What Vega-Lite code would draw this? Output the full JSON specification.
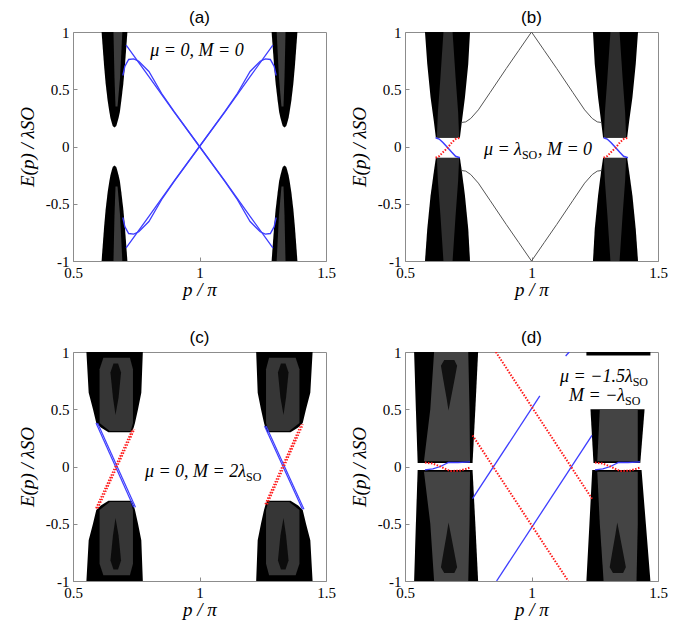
{
"$schema": "https://vega.github.io/schema/vega-lite/v6.json",
"padding": {"left": 17, "top": 8, "right": 4, "bottom": 4},
"config": {
  "view": {"stroke": "#8c8c8c", "strokeWidth": 1},
  "axis": {"domain": false, "grid": false, "tickSize": -4, "tickColor": "#8c8c8c", "labelPadding": 8, "labelFont": "Liberation Serif", "labelFontSize": 15, "labelColor": "black", "titleFont": "Liberation Serif", "titleFontSize": 19, "titleFontStyle": "italic", "titleFontWeight": "normal", "titleColor": "black", "titlePadding": 8},
  "axisX": {"titlePadding": 0},
  "title": {"font": "Liberation Sans", "fontSize": 17, "fontWeight": "normal", "color": "black", "offset": -2},
  "text": {"font": "Liberation Serif", "fontSize": 18, "fontStyle": "italic", "color": "black"}
},
"datasets": {
  "bands": [
    {"panel":"a","band":"UL","E":0.165,"p":0.664,"p2":0.664},{"panel":"a","band":"UL","E":0.18,"p":0.657,"p2":0.671},{"panel":"a","band":"UL","E":0.2,"p":0.654,"p2":0.674},{"panel":"a","band":"UL","E":0.25,"p":0.648,"p2":0.68},{"panel":"a","band":"UL","E":0.3,"p":0.644,"p2":0.685},{"panel":"a","band":"UL","E":0.4,"p":0.637,"p2":0.691},{"panel":"a","band":"UL","E":0.55,"p":0.629,"p2":0.699},{"panel":"a","band":"UL","E":0.7,"p":0.623,"p2":0.705},{"panel":"a","band":"UL","E":0.85,"p":0.618,"p2":0.71},{"panel":"a","band":"UL","E":1,"p":0.613,"p2":0.715},
    {"panel":"a","band":"LL","E":-1,"p":0.613,"p2":0.715},{"panel":"a","band":"LL","E":-0.85,"p":0.618,"p2":0.71},{"panel":"a","band":"LL","E":-0.7,"p":0.623,"p2":0.705},{"panel":"a","band":"LL","E":-0.55,"p":0.629,"p2":0.699},{"panel":"a","band":"LL","E":-0.4,"p":0.637,"p2":0.691},{"panel":"a","band":"LL","E":-0.3,"p":0.644,"p2":0.685},{"panel":"a","band":"LL","E":-0.25,"p":0.648,"p2":0.68},{"panel":"a","band":"LL","E":-0.2,"p":0.654,"p2":0.674},{"panel":"a","band":"LL","E":-0.18,"p":0.657,"p2":0.671},{"panel":"a","band":"LL","E":-0.165,"p":0.664,"p2":0.664},
    {"panel":"a","band":"UR","E":0.165,"p":1.336,"p2":1.336},{"panel":"a","band":"UR","E":0.18,"p":1.329,"p2":1.343},{"panel":"a","band":"UR","E":0.2,"p":1.326,"p2":1.346},{"panel":"a","band":"UR","E":0.25,"p":1.32,"p2":1.352},{"panel":"a","band":"UR","E":0.3,"p":1.315,"p2":1.356},{"panel":"a","band":"UR","E":0.4,"p":1.309,"p2":1.363},{"panel":"a","band":"UR","E":0.55,"p":1.301,"p2":1.371},{"panel":"a","band":"UR","E":0.7,"p":1.295,"p2":1.377},{"panel":"a","band":"UR","E":0.85,"p":1.29,"p2":1.382},{"panel":"a","band":"UR","E":1,"p":1.285,"p2":1.387},
    {"panel":"a","band":"LR","E":-1,"p":1.285,"p2":1.387},{"panel":"a","band":"LR","E":-0.85,"p":1.29,"p2":1.382},{"panel":"a","band":"LR","E":-0.7,"p":1.295,"p2":1.377},{"panel":"a","band":"LR","E":-0.55,"p":1.301,"p2":1.371},{"panel":"a","band":"LR","E":-0.4,"p":1.309,"p2":1.363},{"panel":"a","band":"LR","E":-0.3,"p":1.315,"p2":1.356},{"panel":"a","band":"LR","E":-0.25,"p":1.32,"p2":1.352},{"panel":"a","band":"LR","E":-0.2,"p":1.326,"p2":1.346},{"panel":"a","band":"LR","E":-0.18,"p":1.329,"p2":1.343},{"panel":"a","band":"LR","E":-0.165,"p":1.336,"p2":1.336},
    {"panel":"b","band":"UL","E":0.076,"p":0.622,"p2":0.717},{"panel":"b","band":"UL","E":0.22,"p":0.614,"p2":0.725},{"panel":"b","band":"UL","E":0.43,"p":0.601,"p2":0.737},{"panel":"b","band":"UL","E":0.72,"p":0.588,"p2":0.75},{"panel":"b","band":"UL","E":1,"p":0.579,"p2":0.757},
    {"panel":"b","band":"LL","E":-1,"p":0.579,"p2":0.757},{"panel":"b","band":"LL","E":-0.72,"p":0.588,"p2":0.75},{"panel":"b","band":"LL","E":-0.43,"p":0.601,"p2":0.737},{"panel":"b","band":"LL","E":-0.22,"p":0.614,"p2":0.725},{"panel":"b","band":"LL","E":-0.098,"p":0.622,"p2":0.717},
    {"panel":"b","band":"UR","E":0.076,"p":1.283,"p2":1.378},{"panel":"b","band":"UR","E":0.22,"p":1.275,"p2":1.386},{"panel":"b","band":"UR","E":0.43,"p":1.263,"p2":1.399},{"panel":"b","band":"UR","E":0.72,"p":1.25,"p2":1.412},{"panel":"b","band":"UR","E":1,"p":1.243,"p2":1.421},
    {"panel":"b","band":"LR","E":-1,"p":1.243,"p2":1.421},{"panel":"b","band":"LR","E":-0.72,"p":1.25,"p2":1.412},{"panel":"b","band":"LR","E":-0.43,"p":1.263,"p2":1.399},{"panel":"b","band":"LR","E":-0.22,"p":1.275,"p2":1.386},{"panel":"b","band":"LR","E":-0.098,"p":1.283,"p2":1.378},
    {"panel":"c","band":"UL","E":0.3,"p":0.64,"p2":0.732},{"panel":"c","band":"UL","E":0.34,"p":0.61,"p2":0.74},{"panel":"c","band":"UL","E":0.38,"p":0.592,"p2":0.745},{"panel":"c","band":"UL","E":0.5,"p":0.579,"p2":0.757},{"panel":"c","band":"UL","E":0.645,"p":0.562,"p2":0.77},{"panel":"c","band":"UL","E":1,"p":0.553,"p2":0.776},
    {"panel":"c","band":"LL","E":-1,"p":0.553,"p2":0.776},{"panel":"c","band":"LL","E":-0.645,"p":0.562,"p2":0.77},{"panel":"c","band":"LL","E":-0.5,"p":0.579,"p2":0.757},{"panel":"c","band":"LL","E":-0.38,"p":0.592,"p2":0.745},{"panel":"c","band":"LL","E":-0.34,"p":0.61,"p2":0.74},{"panel":"c","band":"LL","E":-0.3,"p":0.64,"p2":0.732},
    {"panel":"c","band":"UR","E":0.3,"p":1.268,"p2":1.36},{"panel":"c","band":"UR","E":0.34,"p":1.26,"p2":1.39},{"panel":"c","band":"UR","E":0.38,"p":1.255,"p2":1.408},{"panel":"c","band":"UR","E":0.5,"p":1.243,"p2":1.421},{"panel":"c","band":"UR","E":0.645,"p":1.23,"p2":1.438},{"panel":"c","band":"UR","E":1,"p":1.224,"p2":1.447},
    {"panel":"c","band":"LR","E":-1,"p":1.224,"p2":1.447},{"panel":"c","band":"LR","E":-0.645,"p":1.23,"p2":1.438},{"panel":"c","band":"LR","E":-0.5,"p":1.243,"p2":1.421},{"panel":"c","band":"LR","E":-0.38,"p":1.255,"p2":1.408},{"panel":"c","band":"LR","E":-0.34,"p":1.26,"p2":1.39},{"panel":"c","band":"LR","E":-0.3,"p":1.268,"p2":1.36},
    {"panel":"d","band":"UL","E":0.03,"p":0.55,"p2":0.767},{"panel":"d","band":"UL","E":0.5,"p":0.543,"p2":0.778},{"panel":"d","band":"UL","E":1,"p":0.536,"p2":0.789},
    {"panel":"d","band":"LL","E":-1,"p":0.536,"p2":0.789},{"panel":"d","band":"LL","E":-0.5,"p":0.543,"p2":0.778},{"panel":"d","band":"LL","E":-0.03,"p":0.55,"p2":0.767},
    {"panel":"d","band":"UR","E":0.03,"p":1.245,"p2":1.43},{"panel":"d","band":"UR","E":0.5,"p":1.233,"p2":1.447},
    {"panel":"d","band":"URtop","E":0.97,"p":1.217,"p2":1.47},{"panel":"d","band":"URtop","E":1,"p":1.217,"p2":1.47},
    {"panel":"d","band":"LR","E":-1,"p":1.217,"p2":1.47},{"panel":"d","band":"LR","E":-0.5,"p":1.229,"p2":1.452},{"panel":"d","band":"LR","E":-0.03,"p":1.24,"p2":1.435}
  ],
  "cores": [
    {"panel":"a","band":"UL","level":"core","E":0.35,"p":0.668,"p2":0.676},{"panel":"a","band":"UL","level":"core","E":0.6,"p":0.664,"p2":0.686},{"panel":"a","band":"UL","level":"core","E":1,"p":0.66,"p2":0.695},
    {"panel":"a","band":"LL","level":"core","E":-1,"p":0.66,"p2":0.695},{"panel":"a","band":"LL","level":"core","E":-0.6,"p":0.664,"p2":0.686},{"panel":"a","band":"LL","level":"core","E":-0.35,"p":0.668,"p2":0.676},
    {"panel":"a","band":"UR","level":"core","E":0.35,"p":1.324,"p2":1.332},{"panel":"a","band":"UR","level":"core","E":0.6,"p":1.314,"p2":1.336},{"panel":"a","band":"UR","level":"core","E":1,"p":1.305,"p2":1.34},
    {"panel":"a","band":"LR","level":"core","E":-1,"p":1.305,"p2":1.34},{"panel":"a","band":"LR","level":"core","E":-0.6,"p":1.314,"p2":1.336},{"panel":"a","band":"LR","level":"core","E":-0.35,"p":1.324,"p2":1.332},
    {"panel":"b","band":"UL","level":"core","E":0.08,"p":0.626,"p2":0.714},{"panel":"b","band":"UL","level":"core","E":0.3,"p":0.63,"p2":0.71},{"panel":"b","band":"UL","level":"core","E":0.6,"p":0.64,"p2":0.7},{"panel":"b","band":"UL","level":"core","E":1,"p":0.652,"p2":0.688},
    {"panel":"b","band":"LL","level":"core","E":-1,"p":0.652,"p2":0.688},{"panel":"b","band":"LL","level":"core","E":-0.6,"p":0.64,"p2":0.7},{"panel":"b","band":"LL","level":"core","E":-0.3,"p":0.63,"p2":0.71},{"panel":"b","band":"LL","level":"core","E":-0.1,"p":0.626,"p2":0.714},
    {"panel":"b","band":"UR","level":"core","E":0.08,"p":1.286,"p2":1.374},{"panel":"b","band":"UR","level":"core","E":0.3,"p":1.29,"p2":1.37},{"panel":"b","band":"UR","level":"core","E":0.6,"p":1.3,"p2":1.36},{"panel":"b","band":"UR","level":"core","E":1,"p":1.312,"p2":1.348},
    {"panel":"b","band":"LR","level":"core","E":-1,"p":1.312,"p2":1.348},{"panel":"b","band":"LR","level":"core","E":-0.6,"p":1.3,"p2":1.36},{"panel":"b","band":"LR","level":"core","E":-0.3,"p":1.29,"p2":1.37},{"panel":"b","band":"LR","level":"core","E":-0.1,"p":1.286,"p2":1.374},
    {"panel":"c","band":"UL","level":"core","E":0.31,"p":0.645,"p2":0.728},{"panel":"c","band":"UL","level":"core","E":0.38,"p":0.605,"p2":0.737},{"panel":"c","band":"UL","level":"core","E":0.85,"p":0.605,"p2":0.737},{"panel":"c","band":"UL","level":"core","E":0.95,"p":0.62,"p2":0.725},
    {"panel":"c","band":"LL","level":"core","E":-0.95,"p":0.62,"p2":0.725},{"panel":"c","band":"LL","level":"core","E":-0.85,"p":0.605,"p2":0.737},{"panel":"c","band":"LL","level":"core","E":-0.38,"p":0.605,"p2":0.737},{"panel":"c","band":"LL","level":"core","E":-0.31,"p":0.645,"p2":0.728},
    {"panel":"c","band":"UR","level":"core","E":0.31,"p":1.272,"p2":1.355},{"panel":"c","band":"UR","level":"core","E":0.38,"p":1.263,"p2":1.395},{"panel":"c","band":"UR","level":"core","E":0.85,"p":1.263,"p2":1.395},{"panel":"c","band":"UR","level":"core","E":0.95,"p":1.275,"p2":1.38},
    {"panel":"c","band":"LR","level":"core","E":-0.95,"p":1.275,"p2":1.38},{"panel":"c","band":"LR","level":"core","E":-0.85,"p":1.263,"p2":1.395},{"panel":"c","band":"LR","level":"core","E":-0.38,"p":1.263,"p2":1.395},{"panel":"c","band":"LR","level":"core","E":-0.31,"p":1.272,"p2":1.355},
    {"panel":"c","band":"ULs","level":"spindle","E":0.45,"p":0.668,"p2":0.668},{"panel":"c","band":"ULs","level":"spindle","E":0.6,"p":0.658,"p2":0.68},{"panel":"c","band":"ULs","level":"spindle","E":0.82,"p":0.648,"p2":0.69},{"panel":"c","band":"ULs","level":"spindle","E":0.9,"p":0.66,"p2":0.678},
    {"panel":"c","band":"LLs","level":"spindle","E":-0.9,"p":0.66,"p2":0.678},{"panel":"c","band":"LLs","level":"spindle","E":-0.82,"p":0.648,"p2":0.69},{"panel":"c","band":"LLs","level":"spindle","E":-0.6,"p":0.658,"p2":0.68},{"panel":"c","band":"LLs","level":"spindle","E":-0.45,"p":0.668,"p2":0.668},
    {"panel":"c","band":"URs","level":"spindle","E":0.45,"p":1.332,"p2":1.332},{"panel":"c","band":"URs","level":"spindle","E":0.6,"p":1.32,"p2":1.342},{"panel":"c","band":"URs","level":"spindle","E":0.82,"p":1.31,"p2":1.352},{"panel":"c","band":"URs","level":"spindle","E":0.9,"p":1.322,"p2":1.34},
    {"panel":"c","band":"LRs","level":"spindle","E":-0.9,"p":1.322,"p2":1.34},{"panel":"c","band":"LRs","level":"spindle","E":-0.82,"p":1.31,"p2":1.352},{"panel":"c","band":"LRs","level":"spindle","E":-0.6,"p":1.32,"p2":1.342},{"panel":"c","band":"LRs","level":"spindle","E":-0.45,"p":1.332,"p2":1.332},
    {"panel":"d","band":"UL","level":"core","E":0.045,"p":0.575,"p2":0.757},{"panel":"d","band":"UL","level":"core","E":0.5,"p":0.6,"p2":0.755},{"panel":"d","band":"UL","level":"core","E":1,"p":0.615,"p2":0.75},
    {"panel":"d","band":"LL","level":"core","E":-1,"p":0.615,"p2":0.75},{"panel":"d","band":"LL","level":"core","E":-0.5,"p":0.6,"p2":0.755},{"panel":"d","band":"LL","level":"core","E":-0.045,"p":0.575,"p2":0.757},
    {"panel":"d","band":"UR","level":"core","E":0.045,"p":1.26,"p2":1.42},{"panel":"d","band":"UR","level":"core","E":0.5,"p":1.27,"p2":1.42},
    {"panel":"d","band":"LR","level":"core","E":-1,"p":1.285,"p2":1.415},{"panel":"d","band":"LR","level":"core","E":-0.5,"p":1.27,"p2":1.42},{"panel":"d","band":"LR","level":"core","E":-0.045,"p":1.26,"p2":1.42},
    {"panel":"d","band":"ULs","level":"spindle","E":0.49,"p":0.672,"p2":0.672},{"panel":"d","band":"ULs","level":"spindle","E":0.6,"p":0.664,"p2":0.682},{"panel":"d","band":"ULs","level":"spindle","E":0.75,"p":0.652,"p2":0.695},{"panel":"d","band":"ULs","level":"spindle","E":0.88,"p":0.642,"p2":0.706},{"panel":"d","band":"ULs","level":"spindle","E":0.93,"p":0.655,"p2":0.695},
    {"panel":"d","band":"LLs","level":"spindle","E":-0.93,"p":0.655,"p2":0.695},{"panel":"d","band":"LLs","level":"spindle","E":-0.88,"p":0.642,"p2":0.706},{"panel":"d","band":"LLs","level":"spindle","E":-0.75,"p":0.652,"p2":0.695},{"panel":"d","band":"LLs","level":"spindle","E":-0.6,"p":0.664,"p2":0.682},{"panel":"d","band":"LLs","level":"spindle","E":-0.49,"p":0.672,"p2":0.672},
    {"panel":"d","band":"LRs","level":"spindle","E":-0.93,"p":1.322,"p2":1.362},{"panel":"d","band":"LRs","level":"spindle","E":-0.88,"p":1.309,"p2":1.373},{"panel":"d","band":"LRs","level":"spindle","E":-0.75,"p":1.319,"p2":1.362},{"panel":"d","band":"LRs","level":"spindle","E":-0.6,"p":1.331,"p2":1.349},{"panel":"d","band":"LRs","level":"spindle","E":-0.49,"p":1.339,"p2":1.339}
  ],
  "curves": [
    {"panel":"a","id":"a1","kind":"up","p":0.71,"E":0.885},{"panel":"a","id":"a1","kind":"up","p":0.8,"E":0.61},{"panel":"a","id":"a1","kind":"up","p":0.9,"E":0.3},{"panel":"a","id":"a1","kind":"up","p":1,"E":0},{"panel":"a","id":"a1","kind":"up","p":1.1,"E":-0.3},{"panel":"a","id":"a1","kind":"up","p":1.2,"E":-0.61},{"panel":"a","id":"a1","kind":"up","p":1.29,"E":-0.885},
    {"panel":"a","id":"a3","kind":"up","p":0.71,"E":-0.885},{"panel":"a","id":"a3","kind":"up","p":0.8,"E":-0.61},{"panel":"a","id":"a3","kind":"up","p":0.9,"E":-0.3},{"panel":"a","id":"a3","kind":"up","p":1,"E":0},{"panel":"a","id":"a3","kind":"up","p":1.1,"E":0.3},{"panel":"a","id":"a3","kind":"up","p":1.2,"E":0.61},{"panel":"a","id":"a3","kind":"up","p":1.29,"E":0.885},
    {"panel":"a","id":"a2","kind":"up","p":0.697,"E":0.62},{"panel":"a","id":"a2","kind":"up","p":0.705,"E":0.7},{"panel":"a","id":"a2","kind":"up","p":0.72,"E":0.76},{"panel":"a","id":"a2","kind":"up","p":0.74,"E":0.765},{"panel":"a","id":"a2","kind":"up","p":0.76,"E":0.745},{"panel":"a","id":"a2","kind":"up","p":0.8,"E":0.655},{"panel":"a","id":"a2","kind":"up","p":0.85,"E":0.465},{"panel":"a","id":"a2","kind":"up","p":0.9,"E":0.305},{"panel":"a","id":"a2","kind":"up","p":1,"E":0},{"panel":"a","id":"a2","kind":"up","p":1.1,"E":-0.305},{"panel":"a","id":"a2","kind":"up","p":1.15,"E":-0.465},{"panel":"a","id":"a2","kind":"up","p":1.2,"E":-0.655},{"panel":"a","id":"a2","kind":"up","p":1.24,"E":-0.745},{"panel":"a","id":"a2","kind":"up","p":1.26,"E":-0.765},{"panel":"a","id":"a2","kind":"up","p":1.28,"E":-0.76},{"panel":"a","id":"a2","kind":"up","p":1.295,"E":-0.7},{"panel":"a","id":"a2","kind":"up","p":1.303,"E":-0.62},
    {"panel":"a","id":"a4","kind":"up","p":0.697,"E":-0.62},{"panel":"a","id":"a4","kind":"up","p":0.705,"E":-0.7},{"panel":"a","id":"a4","kind":"up","p":0.72,"E":-0.76},{"panel":"a","id":"a4","kind":"up","p":0.74,"E":-0.765},{"panel":"a","id":"a4","kind":"up","p":0.76,"E":-0.745},{"panel":"a","id":"a4","kind":"up","p":0.8,"E":-0.655},{"panel":"a","id":"a4","kind":"up","p":0.85,"E":-0.465},{"panel":"a","id":"a4","kind":"up","p":0.9,"E":-0.305},{"panel":"a","id":"a4","kind":"up","p":1,"E":0},{"panel":"a","id":"a4","kind":"up","p":1.1,"E":0.305},{"panel":"a","id":"a4","kind":"up","p":1.15,"E":0.465},{"panel":"a","id":"a4","kind":"up","p":1.2,"E":0.655},{"panel":"a","id":"a4","kind":"up","p":1.24,"E":0.745},{"panel":"a","id":"a4","kind":"up","p":1.26,"E":0.765},{"panel":"a","id":"a4","kind":"up","p":1.28,"E":0.76},{"panel":"a","id":"a4","kind":"up","p":1.295,"E":0.7},{"panel":"a","id":"a4","kind":"up","p":1.303,"E":0.62},
    {"panel":"b","id":"bg1","kind":"bulk","p":0.724,"E":0.21},{"panel":"b","id":"bg1","kind":"bulk","p":0.74,"E":0.215},{"panel":"b","id":"bg1","kind":"bulk","p":0.76,"E":0.245},{"panel":"b","id":"bg1","kind":"bulk","p":0.79,"E":0.32},{"panel":"b","id":"bg1","kind":"bulk","p":0.836,"E":0.47},{"panel":"b","id":"bg1","kind":"bulk","p":0.9,"E":0.68},{"panel":"b","id":"bg1","kind":"bulk","p":0.95,"E":0.84},{"panel":"b","id":"bg1","kind":"bulk","p":1,"E":1},{"panel":"b","id":"bg1","kind":"bulk","p":1.05,"E":0.84},{"panel":"b","id":"bg1","kind":"bulk","p":1.1,"E":0.68},{"panel":"b","id":"bg1","kind":"bulk","p":1.164,"E":0.47},{"panel":"b","id":"bg1","kind":"bulk","p":1.21,"E":0.32},{"panel":"b","id":"bg1","kind":"bulk","p":1.24,"E":0.245},{"panel":"b","id":"bg1","kind":"bulk","p":1.26,"E":0.215},{"panel":"b","id":"bg1","kind":"bulk","p":1.276,"E":0.21},
    {"panel":"b","id":"bg2","kind":"bulk","p":0.724,"E":-0.21},{"panel":"b","id":"bg2","kind":"bulk","p":0.74,"E":-0.215},{"panel":"b","id":"bg2","kind":"bulk","p":0.76,"E":-0.245},{"panel":"b","id":"bg2","kind":"bulk","p":0.79,"E":-0.32},{"panel":"b","id":"bg2","kind":"bulk","p":0.836,"E":-0.47},{"panel":"b","id":"bg2","kind":"bulk","p":0.9,"E":-0.68},{"panel":"b","id":"bg2","kind":"bulk","p":0.95,"E":-0.84},{"panel":"b","id":"bg2","kind":"bulk","p":1,"E":-1},{"panel":"b","id":"bg2","kind":"bulk","p":1.05,"E":-0.84},{"panel":"b","id":"bg2","kind":"bulk","p":1.1,"E":-0.68},{"panel":"b","id":"bg2","kind":"bulk","p":1.164,"E":-0.47},{"panel":"b","id":"bg2","kind":"bulk","p":1.21,"E":-0.32},{"panel":"b","id":"bg2","kind":"bulk","p":1.24,"E":-0.245},{"panel":"b","id":"bg2","kind":"bulk","p":1.26,"E":-0.215},{"panel":"b","id":"bg2","kind":"bulk","p":1.276,"E":-0.21},
    {"panel":"b","id":"bb1","kind":"up","p":0.621,"E":0.076},{"panel":"b","id":"bb1","kind":"up","p":0.635,"E":0.065},{"panel":"b","id":"bb1","kind":"up","p":0.65,"E":0.035},{"panel":"b","id":"bb1","kind":"up","p":0.669,"E":-0.01},{"panel":"b","id":"bb1","kind":"up","p":0.685,"E":-0.05},{"panel":"b","id":"bb1","kind":"up","p":0.7,"E":-0.085},{"panel":"b","id":"bb1","kind":"up","p":0.717,"E":-0.098},
    {"panel":"b","id":"br1","kind":"down","p":0.621,"E":-0.098},{"panel":"b","id":"br1","kind":"down","p":0.635,"E":-0.085},{"panel":"b","id":"br1","kind":"down","p":0.65,"E":-0.05},{"panel":"b","id":"br1","kind":"down","p":0.669,"E":-0.01},{"panel":"b","id":"br1","kind":"down","p":0.685,"E":0.035},{"panel":"b","id":"br1","kind":"down","p":0.7,"E":0.065},{"panel":"b","id":"br1","kind":"down","p":0.717,"E":0.076},
    {"panel":"b","id":"bb2","kind":"up","p":1.285,"E":0.076},{"panel":"b","id":"bb2","kind":"up","p":1.299,"E":0.065},{"panel":"b","id":"bb2","kind":"up","p":1.314,"E":0.035},{"panel":"b","id":"bb2","kind":"up","p":1.333,"E":-0.01},{"panel":"b","id":"bb2","kind":"up","p":1.349,"E":-0.05},{"panel":"b","id":"bb2","kind":"up","p":1.364,"E":-0.085},{"panel":"b","id":"bb2","kind":"up","p":1.381,"E":-0.098},
    {"panel":"b","id":"br2","kind":"down","p":1.285,"E":-0.098},{"panel":"b","id":"br2","kind":"down","p":1.299,"E":-0.085},{"panel":"b","id":"br2","kind":"down","p":1.314,"E":-0.05},{"panel":"b","id":"br2","kind":"down","p":1.333,"E":-0.01},{"panel":"b","id":"br2","kind":"down","p":1.349,"E":0.035},{"panel":"b","id":"br2","kind":"down","p":1.364,"E":0.065},{"panel":"b","id":"br2","kind":"down","p":1.381,"E":0.076},
    {"panel":"c","id":"cb1","kind":"up","p":0.591,"E":0.38},{"panel":"c","id":"cb1","kind":"up","p":0.74,"E":-0.356},
    {"panel":"c","id":"cb2","kind":"up","p":0.597,"E":0.38},{"panel":"c","id":"cb2","kind":"up","p":0.747,"E":-0.356},
    {"panel":"c","id":"cr1","kind":"down","p":0.591,"E":-0.365},{"panel":"c","id":"cr1","kind":"down","p":0.736,"E":0.327},
    {"panel":"c","id":"cr2","kind":"down","p":0.598,"E":-0.365},{"panel":"c","id":"cr2","kind":"down","p":0.743,"E":0.327},
    {"panel":"c","id":"cb3","kind":"up","p":1.257,"E":0.354},{"panel":"c","id":"cb3","kind":"up","p":1.407,"E":-0.374},
    {"panel":"c","id":"cb4","kind":"up","p":1.263,"E":0.354},{"panel":"c","id":"cb4","kind":"up","p":1.413,"E":-0.374},
    {"panel":"c","id":"cr3","kind":"down","p":1.26,"E":-0.33},{"panel":"c","id":"cr3","kind":"down","p":1.402,"E":0.368},
    {"panel":"c","id":"cr4","kind":"down","p":1.267,"E":-0.33},{"panel":"c","id":"cr4","kind":"down","p":1.409,"E":0.368},
    {"panel":"d","id":"dr1","kind":"down","p":0.859,"E":1},{"panel":"d","id":"dr1","kind":"down","p":1.239,"E":-0.281},
    {"panel":"d","id":"dr2","kind":"down","p":0.767,"E":0.272},{"panel":"d","id":"dr2","kind":"down","p":1.145,"E":-1},
    {"panel":"d","id":"db1","kind":"up","p":0.767,"E":-0.281},{"panel":"d","id":"db1","kind":"up","p":1.033,"E":0.616},
    {"panel":"d","id":"db2","kind":"up","p":0.862,"E":-1},{"panel":"d","id":"db2","kind":"up","p":1.239,"E":0.272},
    {"panel":"d","id":"db3","kind":"up","p":1.135,"E":0.965},{"panel":"d","id":"db3","kind":"up","p":1.149,"E":1},
    {"panel":"d","id":"dlr","kind":"down","p":0.579,"E":0.035},{"panel":"d","id":"dlr","kind":"down","p":0.61,"E":0.025},{"panel":"d","id":"dlr","kind":"down","p":0.64,"E":0},{"panel":"d","id":"dlr","kind":"down","p":0.678,"E":-0.04},{"panel":"d","id":"dlr","kind":"down","p":0.72,"E":-0.035},{"panel":"d","id":"dlr","kind":"down","p":0.757,"E":-0.01},
    {"panel":"d","id":"dlb","kind":"up","p":0.579,"E":-0.03},{"panel":"d","id":"dlb","kind":"up","p":0.61,"E":-0.02},{"panel":"d","id":"dlb","kind":"up","p":0.64,"E":0},{"panel":"d","id":"dlb","kind":"up","p":0.672,"E":0.035},{"panel":"d","id":"dlb","kind":"up","p":0.71,"E":0.035},{"panel":"d","id":"dlb","kind":"up","p":0.757,"E":0.04},
    {"panel":"d","id":"drr","kind":"down","p":1.251,"E":0.035},{"panel":"d","id":"drr","kind":"down","p":1.282,"E":0.025},{"panel":"d","id":"drr","kind":"down","p":1.312,"E":0},{"panel":"d","id":"drr","kind":"down","p":1.35,"E":-0.04},{"panel":"d","id":"drr","kind":"down","p":1.392,"E":-0.035},{"panel":"d","id":"drr","kind":"down","p":1.429,"E":-0.01},
    {"panel":"d","id":"drb","kind":"up","p":1.251,"E":-0.03},{"panel":"d","id":"drb","kind":"up","p":1.282,"E":-0.02},{"panel":"d","id":"drb","kind":"up","p":1.312,"E":0},{"panel":"d","id":"drb","kind":"up","p":1.344,"E":0.035},{"panel":"d","id":"drb","kind":"up","p":1.382,"E":0.035},{"panel":"d","id":"drb","kind":"up","p":1.429,"E":0.04}
  ],
  "notes": [
    {"panel":"a","part":"whole","p":0.99,"E":0.83,"text":"μ = 0, M = 0"},
    {"panel":"b","part":"pre","p":0.962,"E":-0.03,"text":"μ = λ"},
    {"panel":"b","part":"sub","p":0.962,"E":-0.03,"text":"SO"},
    {"panel":"b","part":"post","p":0.962,"E":-0.03,"text":", M = 0"},
    {"panel":"c","part":"pre","p":1.184,"E":-0.05,"text":"μ = 0, M = 2λ"},
    {"panel":"c","part":"sub","p":1.184,"E":-0.05,"text":"SO"},
    {"panel":"d","part":"pre","p":1.4,"E":0.78,"text":"μ = −1.5λ"},
    {"panel":"d","part":"sub","p":1.4,"E":0.78,"text":"SO"},
    {"panel":"d","part":"pre","p":1.37,"E":0.62,"text":"M = −λ"},
    {"panel":"d","part":"sub","p":1.37,"E":0.62,"text":"SO"}
  ]
},
"spacing": 28,
"vconcat": [
 {"hconcat": [
  {"title": "(a)", "width": 253, "height": 229,
   "encoding": {
     "x": {"field": "p", "type": "quantitative", "scale": {"domain": [0.5, 1.5], "nice": false, "zero": false}, "axis": {"values": [0.5, 1, 1.5], "labelExpr": "'' + datum.value", "labelFlush": false, "title": "p / π"}},
     "y": {"field": "E", "type": "quantitative", "scale": {"domain": [-1, 1], "nice": false, "zero": false}, "axis": {"values": [-1, -0.5, 0, 0.5, 1], "labelExpr": "'' + datum.value", "title": "E(p) / λSO"}}
   },
   "layer": [
     {"data": {"name": "bands"}, "transform": [{"filter": "datum.panel == 'a'"}], "mark": {"type": "area", "orient": "horizontal", "color": "black", "clip": true}, "encoding": {"x2": {"field": "p2"}, "detail": {"field": "band"}}},
     {"data": {"name": "cores"}, "transform": [{"filter": "datum.panel == 'a' && datum.level == 'core'"}], "mark": {"type": "area", "orient": "horizontal", "color": "#3c3c3c", "clip": true}, "encoding": {"x2": {"field": "p2"}, "detail": {"field": "band"}}},
     {"data": {"name": "curves"}, "transform": [{"filter": "datum.panel == 'a' && datum.kind == 'up'"}], "mark": {"type": "line", "color": "#3d3dff", "strokeWidth": 1.3, "clip": true}, "encoding": {"detail": {"field": "id"}}},
     {"data": {"name": "notes"}, "transform": [{"filter": "datum.panel == 'a' && datum.part == 'whole'"}], "mark": {"type": "text", "align": "center", "baseline": "middle"}, "encoding": {"text": {"field": "text"}}}
   ]},
  {"title": "(b)", "width": 253, "height": 229,
   "encoding": {
     "x": {"field": "p", "type": "quantitative", "scale": {"domain": [0.5, 1.5], "nice": false, "zero": false}, "axis": {"values": [0.5, 1, 1.5], "labelExpr": "'' + datum.value", "labelFlush": false, "title": "p / π"}},
     "y": {"field": "E", "type": "quantitative", "scale": {"domain": [-1, 1], "nice": false, "zero": false}, "axis": {"values": [-1, -0.5, 0, 0.5, 1], "labelExpr": "'' + datum.value", "title": "E(p) / λSO"}}
   },
   "layer": [
     {"data": {"name": "bands"}, "transform": [{"filter": "datum.panel == 'b'"}], "mark": {"type": "area", "orient": "horizontal", "color": "black", "clip": true}, "encoding": {"x2": {"field": "p2"}, "detail": {"field": "band"}}},
     {"data": {"name": "cores"}, "transform": [{"filter": "datum.panel == 'b' && datum.level == 'core'"}], "mark": {"type": "area", "orient": "horizontal", "color": "#2e2e2e", "clip": true}, "encoding": {"x2": {"field": "p2"}, "detail": {"field": "band"}}},
     {"data": {"name": "curves"}, "transform": [{"filter": "datum.panel == 'b' && datum.kind == 'bulk'"}], "mark": {"type": "line", "color": "#555555", "strokeWidth": 1, "clip": true}, "encoding": {"detail": {"field": "id"}}},
     {"data": {"name": "curves"}, "transform": [{"filter": "datum.panel == 'b' && datum.kind == 'up'"}], "mark": {"type": "line", "color": "#3d3dff", "strokeWidth": 1.5, "clip": true}, "encoding": {"detail": {"field": "id"}}},
     {"data": {"name": "curves"}, "transform": [{"filter": "datum.panel == 'b' && datum.kind == 'down'"}], "mark": {"type": "line", "color": "#ff1a1a", "strokeWidth": 2, "strokeDash": [1.5, 1.5], "clip": true}, "encoding": {"detail": {"field": "id"}}},
     {"data": {"name": "notes"}, "transform": [{"filter": "datum.panel == 'b' && datum.part == 'pre'"}], "mark": {"type": "text", "align": "right", "baseline": "middle"}, "encoding": {"text": {"field": "text"}}},
     {"data": {"name": "notes"}, "transform": [{"filter": "datum.panel == 'b' && datum.part == 'sub'"}], "mark": {"type": "text", "align": "left", "baseline": "middle", "fontSize": 12, "fontStyle": "normal", "dy": 5}, "encoding": {"text": {"field": "text"}}},
     {"data": {"name": "notes"}, "transform": [{"filter": "datum.panel == 'b' && datum.part == 'post'"}], "mark": {"type": "text", "align": "left", "baseline": "middle", "dx": 16}, "encoding": {"text": {"field": "text"}}}
   ]}
 ], "spacing": 13},
 {"hconcat": [
  {"title": "(c)", "width": 253, "height": 229,
   "encoding": {
     "x": {"field": "p", "type": "quantitative", "scale": {"domain": [0.5, 1.5], "nice": false, "zero": false}, "axis": {"values": [0.5, 1, 1.5], "labelExpr": "'' + datum.value", "labelFlush": false, "title": "p / π"}},
     "y": {"field": "E", "type": "quantitative", "scale": {"domain": [-1, 1], "nice": false, "zero": false}, "axis": {"values": [-1, -0.5, 0, 0.5, 1], "labelExpr": "'' + datum.value", "title": "E(p) / λSO"}}
   },
   "layer": [
     {"data": {"name": "bands"}, "transform": [{"filter": "datum.panel == 'c'"}], "mark": {"type": "area", "orient": "horizontal", "color": "black", "clip": true}, "encoding": {"x2": {"field": "p2"}, "detail": {"field": "band"}}},
     {"data": {"name": "cores"}, "transform": [{"filter": "datum.panel == 'c' && datum.level == 'core'"}], "mark": {"type": "area", "orient": "horizontal", "color": "#363636", "clip": true}, "encoding": {"x2": {"field": "p2"}, "detail": {"field": "band"}}},
     {"data": {"name": "cores"}, "transform": [{"filter": "datum.panel == 'c' && datum.level == 'spindle'"}], "mark": {"type": "area", "orient": "horizontal", "color": "#0c0c0c", "clip": true}, "encoding": {"x2": {"field": "p2"}, "detail": {"field": "band"}}},
     {"data": {"name": "curves"}, "transform": [{"filter": "datum.panel == 'c' && datum.kind == 'up'"}], "mark": {"type": "line", "color": "#3d3dff", "strokeWidth": 1.2, "clip": true}, "encoding": {"detail": {"field": "id"}}},
     {"data": {"name": "curves"}, "transform": [{"filter": "datum.panel == 'c' && datum.kind == 'down'"}], "mark": {"type": "line", "color": "#ff1a1a", "strokeWidth": 1.8, "strokeDash": [1.5, 1.5], "clip": true}, "encoding": {"detail": {"field": "id"}}},
     {"data": {"name": "notes"}, "transform": [{"filter": "datum.panel == 'c' && datum.part == 'pre'"}], "mark": {"type": "text", "align": "right", "baseline": "middle"}, "encoding": {"text": {"field": "text"}}},
     {"data": {"name": "notes"}, "transform": [{"filter": "datum.panel == 'c' && datum.part == 'sub'"}], "mark": {"type": "text", "align": "left", "baseline": "middle", "fontSize": 12, "fontStyle": "normal", "dy": 5}, "encoding": {"text": {"field": "text"}}}
   ]},
  {"title": "(d)", "width": 253, "height": 229,
   "encoding": {
     "x": {"field": "p", "type": "quantitative", "scale": {"domain": [0.5, 1.5], "nice": false, "zero": false}, "axis": {"values": [0.5, 1, 1.5], "labelExpr": "'' + datum.value", "labelFlush": false, "title": "p / π"}},
     "y": {"field": "E", "type": "quantitative", "scale": {"domain": [-1, 1], "nice": false, "zero": false}, "axis": {"values": [-1, -0.5, 0, 0.5, 1], "labelExpr": "'' + datum.value", "title": "E(p) / λSO"}}
   },
   "layer": [
     {"data": {"name": "bands"}, "transform": [{"filter": "datum.panel == 'd'"}], "mark": {"type": "area", "orient": "horizontal", "color": "black", "clip": true}, "encoding": {"x2": {"field": "p2"}, "detail": {"field": "band"}}},
     {"data": {"name": "cores"}, "transform": [{"filter": "datum.panel == 'd' && datum.level == 'core'"}], "mark": {"type": "area", "orient": "horizontal", "color": "#444444", "clip": true}, "encoding": {"x2": {"field": "p2"}, "detail": {"field": "band"}}},
     {"data": {"name": "cores"}, "transform": [{"filter": "datum.panel == 'd' && datum.level == 'spindle'"}], "mark": {"type": "area", "orient": "horizontal", "color": "#111111", "clip": true}, "encoding": {"x2": {"field": "p2"}, "detail": {"field": "band"}}},
     {"data": {"name": "curves"}, "transform": [{"filter": "datum.panel == 'd' && datum.kind == 'up'"}], "mark": {"type": "line", "color": "#3d3dff", "strokeWidth": 1.3, "clip": true}, "encoding": {"detail": {"field": "id"}}},
     {"data": {"name": "curves"}, "transform": [{"filter": "datum.panel == 'd' && datum.kind == 'down'"}], "mark": {"type": "line", "color": "#ff1a1a", "strokeWidth": 2, "strokeDash": [1.5, 1.5], "clip": true}, "encoding": {"detail": {"field": "id"}}},
     {"data": {"name": "notes"}, "transform": [{"filter": "datum.panel == 'd' && datum.part == 'pre'"}], "mark": {"type": "text", "align": "right", "baseline": "middle"}, "encoding": {"text": {"field": "text"}}},
     {"data": {"name": "notes"}, "transform": [{"filter": "datum.panel == 'd' && datum.part == 'sub'"}], "mark": {"type": "text", "align": "left", "baseline": "middle", "fontSize": 12, "fontStyle": "normal", "dy": 5}, "encoding": {"text": {"field": "text"}}}
   ]}
 ], "spacing": 13}
]
}
